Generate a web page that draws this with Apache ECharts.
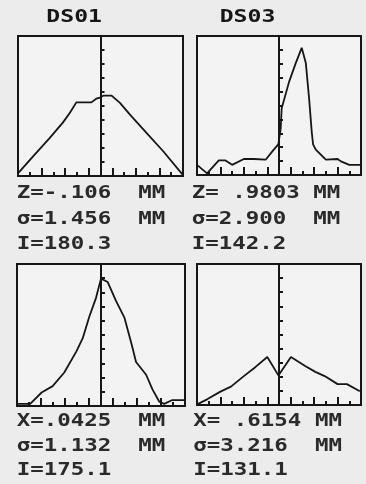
<!DOCTYPE html>
<html>
<head>
<meta charset="utf-8">
<script src="https://cdn.jsdelivr.net/npm/echarts@6/dist/echarts.min.js"></script>
<style>
  html, body { margin: 0; padding: 0; background: #ececec; }
  #chart { width: 366px; height: 484px; }
</style>
</head>
<body>
<div id="chart"></div>
<script>
// beam profiles, position (tick units) and intensity (0..10 of frame)
const zDs01Pos = [-7, -5.74, -4.32, -3.18, -2.61, -2.05, -0.77, -0.34, 0.03, 0.23, 0.94, 1.65, 2.5, 3.92, 5.34, 6.95];
const zDs01Val = [0.19, 1.39, 2.7, 3.83, 4.5, 5.26, 5.26, 5.53, 5.62, 5.74, 5.74, 5.22, 4.38, 3.06, 1.75, 0.12];

const zDs03Pos = [-7, -6.14, -5.14, -4.57, -4.0, -3.0, -2.14, -1.14, -0.57, -0.06, 0.14, 0.23, 0.86, 1.43, 1.94, 2.29, 2.57, 2.8, 2.91, 3.14, 4.0, 5.0, 5.29, 6.0, 7.0];
const zDs03Val = [0.73, 0.12, 1.05, 1.05, 0.73, 1.15, 1.15, 1.1, 1.7, 2.2, 3.3, 4.8, 6.7, 8.05, 9.15, 8.05, 5.49, 3.05, 2.2, 1.83, 1.1, 1.15, 0.98, 0.73, 0.73];

const xDs01Pos = [-7, -5.9, -4.95, -4.03, -3.06, -2.05, -1.53, -0.97, -0.42, 0, 0.56, 1.25, 1.96, 2.55, 2.92, 3.76, 4.3, 4.86, 5.26, 5.95, 7.0];
const xDs01Val = [0.15, 0.15, 0.95, 1.4, 2.36, 3.85, 4.76, 6.3, 7.6, 8.97, 8.73, 7.4, 6.2, 4.35, 3.1, 2.2, 1.15, 0.3, 0.15, 0.42, 0.42];

const xDs03Pos = [-6.9, -6.1, -5.0, -4.1, -3.0, -2.0, -1.0, -0.05, 1.02, 2.2, 3.1, 3.9, 5.0, 5.8, 6.9];
const xDs03Val = [0.08, 0.42, 0.95, 1.3, 2.05, 2.7, 3.4, 2.1, 3.41, 2.79, 2.35, 2.05, 1.48, 1.48, 0.98];

const tallTicks = [-5, -3, -1, 1, 3, 5];

const titles = ['DS01', 'DS03'];
const readouts = [
  ['Z=-.106  MM', 'σ=1.456  MM', 'I=180.3'],
  ['Z= .9803 MM', 'σ=2.900  MM', 'I=142.2'],
  ['X=.0425  MM', 'σ=1.132  MM', 'I=175.1'],
  ['X= .6154 MM', 'σ=3.216  MM', 'I=131.1']
];

const ink = '#161616';
const chart = echarts.init(document.getElementById('chart'));

const panels = [
  { left: 18, top: 36, width: 165, height: 140 },
  { left: 197, top: 36, width: 164, height: 139 },
  { left: 17, top: 264, width: 168, height: 142 },
  { left: 197, top: 264, width: 164, height: 141 }
];
const profiles = [
  [zDs01Pos, zDs01Val],
  [zDs03Pos, zDs03Val],
  [xDs01Pos, xDs01Val],
  [xDs03Pos, xDs03Val]
];

const grids = [];
const xAxes = [];
const yAxes = [];
const series = [];
const hidden = { show: false };
panels.forEach((g, i) => {
  // main frame: short ticks every unit, centre line with ticks
  grids.push(Object.assign({ show: true, borderColor: ink, borderWidth: 2, backgroundColor: '#f3f3f3' }, g));
  xAxes.push({
    type: 'value', gridIndex: i * 2, min: -7, max: 7, interval: 1,
    axisLine: hidden, axisLabel: hidden, splitLine: hidden,
    axisTick: { inside: true, length: 4, lineStyle: { color: ink, width: 2 } }
  });
  yAxes.push({
    type: 'value', gridIndex: i * 2, min: 0, max: 10, interval: 1,
    axisLine: { show: true, onZero: true, lineStyle: { color: ink, width: 2 } },
    axisLabel: hidden, splitLine: hidden,
    axisTick: { inside: true, length: 4, lineStyle: { color: ink, width: 2 } }
  });
  // overlay of same size: tall ticks on odd units
  grids.push(Object.assign({ show: false }, g));
  xAxes.push({
    type: 'value', gridIndex: i * 2 + 1, min: -7, max: 7,
    axisLine: hidden, axisLabel: hidden, splitLine: hidden,
    axisTick: { show: true, inside: true, length: 8, customValues: tallTicks, lineStyle: { color: ink, width: 2 } }
  });
  yAxes.push({
    type: 'value', gridIndex: i * 2 + 1, min: 0, max: 10,
    axisLine: hidden, axisLabel: hidden, splitLine: hidden, axisTick: hidden
  });
  const [pos, val] = profiles[i];
  series.push({
    type: 'line', xAxisIndex: i * 2, yAxisIndex: i * 2,
    data: pos.map((p, k) => [p, val[k]]),
    showSymbol: false, silent: true,
    lineStyle: { color: ink, width: 1.8 }
  });
});

const graphic = [];
const textX = [16.7, 191.7, 16.7, 193.3];
const textY = [[194, 220, 244.5], [194, 220, 244.5], [421.5, 446.5, 471], [421.5, 446.5, 471]];
readouts.forEach((lines, i) => {
  lines.forEach((t, k) => {
    graphic.push({
      type: 'text', x: textX[i], y: textY[i][k], scaleX: 1.32,
      style: { text: t, font: 'bold 17px "DejaVu Sans Mono"', fill: '#2a2a2a', verticalAlign: 'middle' }
    });
  });
});
const titleX = [74.2, 247.5];
titles.forEach((t, i) => {
  graphic.push({
    type: 'text', x: titleX[i], y: 17.5, scaleX: 1.36,
    style: { text: t, font: 'bold 17px "DejaVu Sans Mono"', fill: ink, align: 'center', verticalAlign: 'middle' }
  });
});

chart.setOption({
  backgroundColor: '#ececec',
  animation: false,
  grid: grids,
  xAxis: xAxes,
  yAxis: yAxes,
  series: series,
  graphic: graphic
});
</script>
</body>
</html>
